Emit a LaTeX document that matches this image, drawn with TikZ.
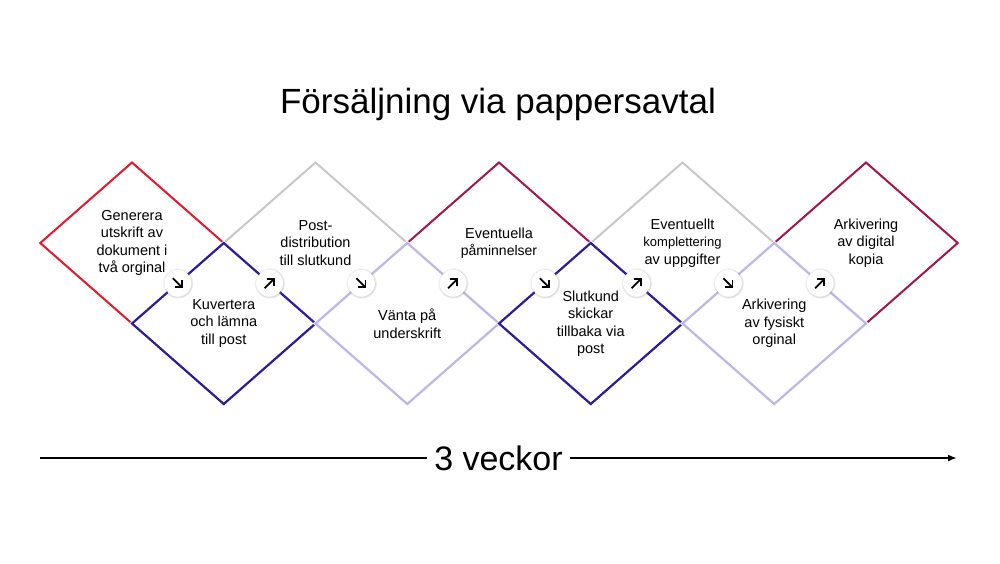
\documentclass[tikz,border=0pt]{standalone}
\usepackage{fontspec}
\setmainfont{Liberation Sans}
\usetikzlibrary{shapes.geometric,arrows.meta,calc,shadows}
\definecolor{phasered}{RGB}{228,24,44}
\definecolor{phaseblue}{RGB}{46,27,155}
\definecolor{phasegrey}{RGB}{200,200,200}
\definecolor{phasewine}{RGB}{165,20,80}
\definecolor{phaselilac}{RGB}{188,184,228}
\tikzset{
  phase/.style={diamond, draw, line width=2pt, minimum width=183.5pt, minimum height=161pt,
    inner sep=0pt, outer sep=0pt, align=center, font=\fontsize{14.5}{17.5}\selectfont},
  lowphase/.style={phase, line width=2.2pt, preaction={draw=white, line width=3.6pt}},
  turn/.style={circle, fill=white, minimum size=27pt, inner sep=0pt,
    circular drop shadow={shadow xshift=0pt, shadow yshift=0pt, shadow scale=1.15, opacity=0.3}},
  turnarrow/.style={line width=1.8pt, -{Straight Barb[length=5pt,width=10pt]}}
}
\begin{document}
\begin{tikzpicture}[x=1pt,y=-1pt]
\fill[white] (0,0) rectangle (1000,563);

% title
\node (title) at (498,104) [font=\fontsize{35}{42}\selectfont] {Försäljning via pappersavtal};

% top row
\node at (132,243) (t1) [phase, draw=phasered] {Generera\\utskrift av\\dokument i\\två orginal};
\node at (315.5,243) (t2) [phase, draw=phasegrey] {Post-\\distribution\\till slutkund};
\node at (499,243) (t3) [phase, draw=phasewine] {Eventuella\\{\fontsize{14}{17}\selectfont påminnelser}};
\node at (682.5,243) (t4) [phase, draw=phasegrey] {Eventuellt\\{\fontsize{13}{17}\selectfont komplettering}\\av uppgifter};
\node at (866,243) (t5) [phase, draw=phasewine] {Arkivering\\av digital\\kopia};
% bottom row (drawn over the shared edges)
\node at (223.75,323.5) (b1) [lowphase, draw=phaseblue] {Kuvertera\\och lämna\\till post};
\node at (407.25,323.5) (b2) [lowphase, draw=phaselilac] {Vänta på\\underskrift};
\node at (590.75,323.5) (b3) [lowphase, draw=phaseblue] {Slutkund\\skickar\\tillbaka via\\post};
\node at (774.25,323.5) (b4) [lowphase, draw=phaselilac] {Arkivering\\av fysiskt\\orginal};

% turning points
\node at ($(t1.east)!0.5!(t1.south)$) (c1) [turn] {};
\node at ($(b1.north)!0.5!(b1.east)$) (c2) [turn] {};
\node at ($(t2.east)!0.5!(t2.south)$) (c3) [turn] {};
\node at ($(b2.north)!0.5!(b2.east)$) (c4) [turn] {};
\node at ($(t3.east)!0.5!(t3.south)$) (c5) [turn] {};
\node at ($(b3.north)!0.5!(b3.east)$) (c6) [turn] {};
\node at ($(t4.east)!0.5!(t4.south)$) (c7) [turn] {};
\node at ($(b4.north)!0.5!(b4.east)$) (c8) [turn] {};
% down
\draw [turnarrow] ($(c1)+(-5,-5)$) -- ($(c1)+(5,5)$);
\draw [turnarrow] ($(c3)+(-5,-5)$) -- ($(c3)+(5,5)$);
\draw [turnarrow] ($(c5)+(-5,-5)$) -- ($(c5)+(5,5)$);
\draw [turnarrow] ($(c7)+(-5,-5)$) -- ($(c7)+(5,5)$);
% up
\draw [turnarrow] ($(c2)+(-5,5)$) -- ($(c2)+(5,-5)$);
\draw [turnarrow] ($(c4)+(-5,5)$) -- ($(c4)+(5,-5)$);
\draw [turnarrow] ($(c6)+(-5,5)$) -- ($(c6)+(5,-5)$);
\draw [turnarrow] ($(c8)+(-5,5)$) -- ($(c8)+(5,-5)$);

% time line
\coordinate (start) at (40,458);
\coordinate (end) at (957,458);
\draw [line width=2pt, -{Latex[length=9pt,width=7pt]}] (start) -- node [fill=white, inner xsep=7pt, font=\fontsize{34}{40}\selectfont] (weeks) {3 veckor} (end);
\end{tikzpicture}
\end{document}
